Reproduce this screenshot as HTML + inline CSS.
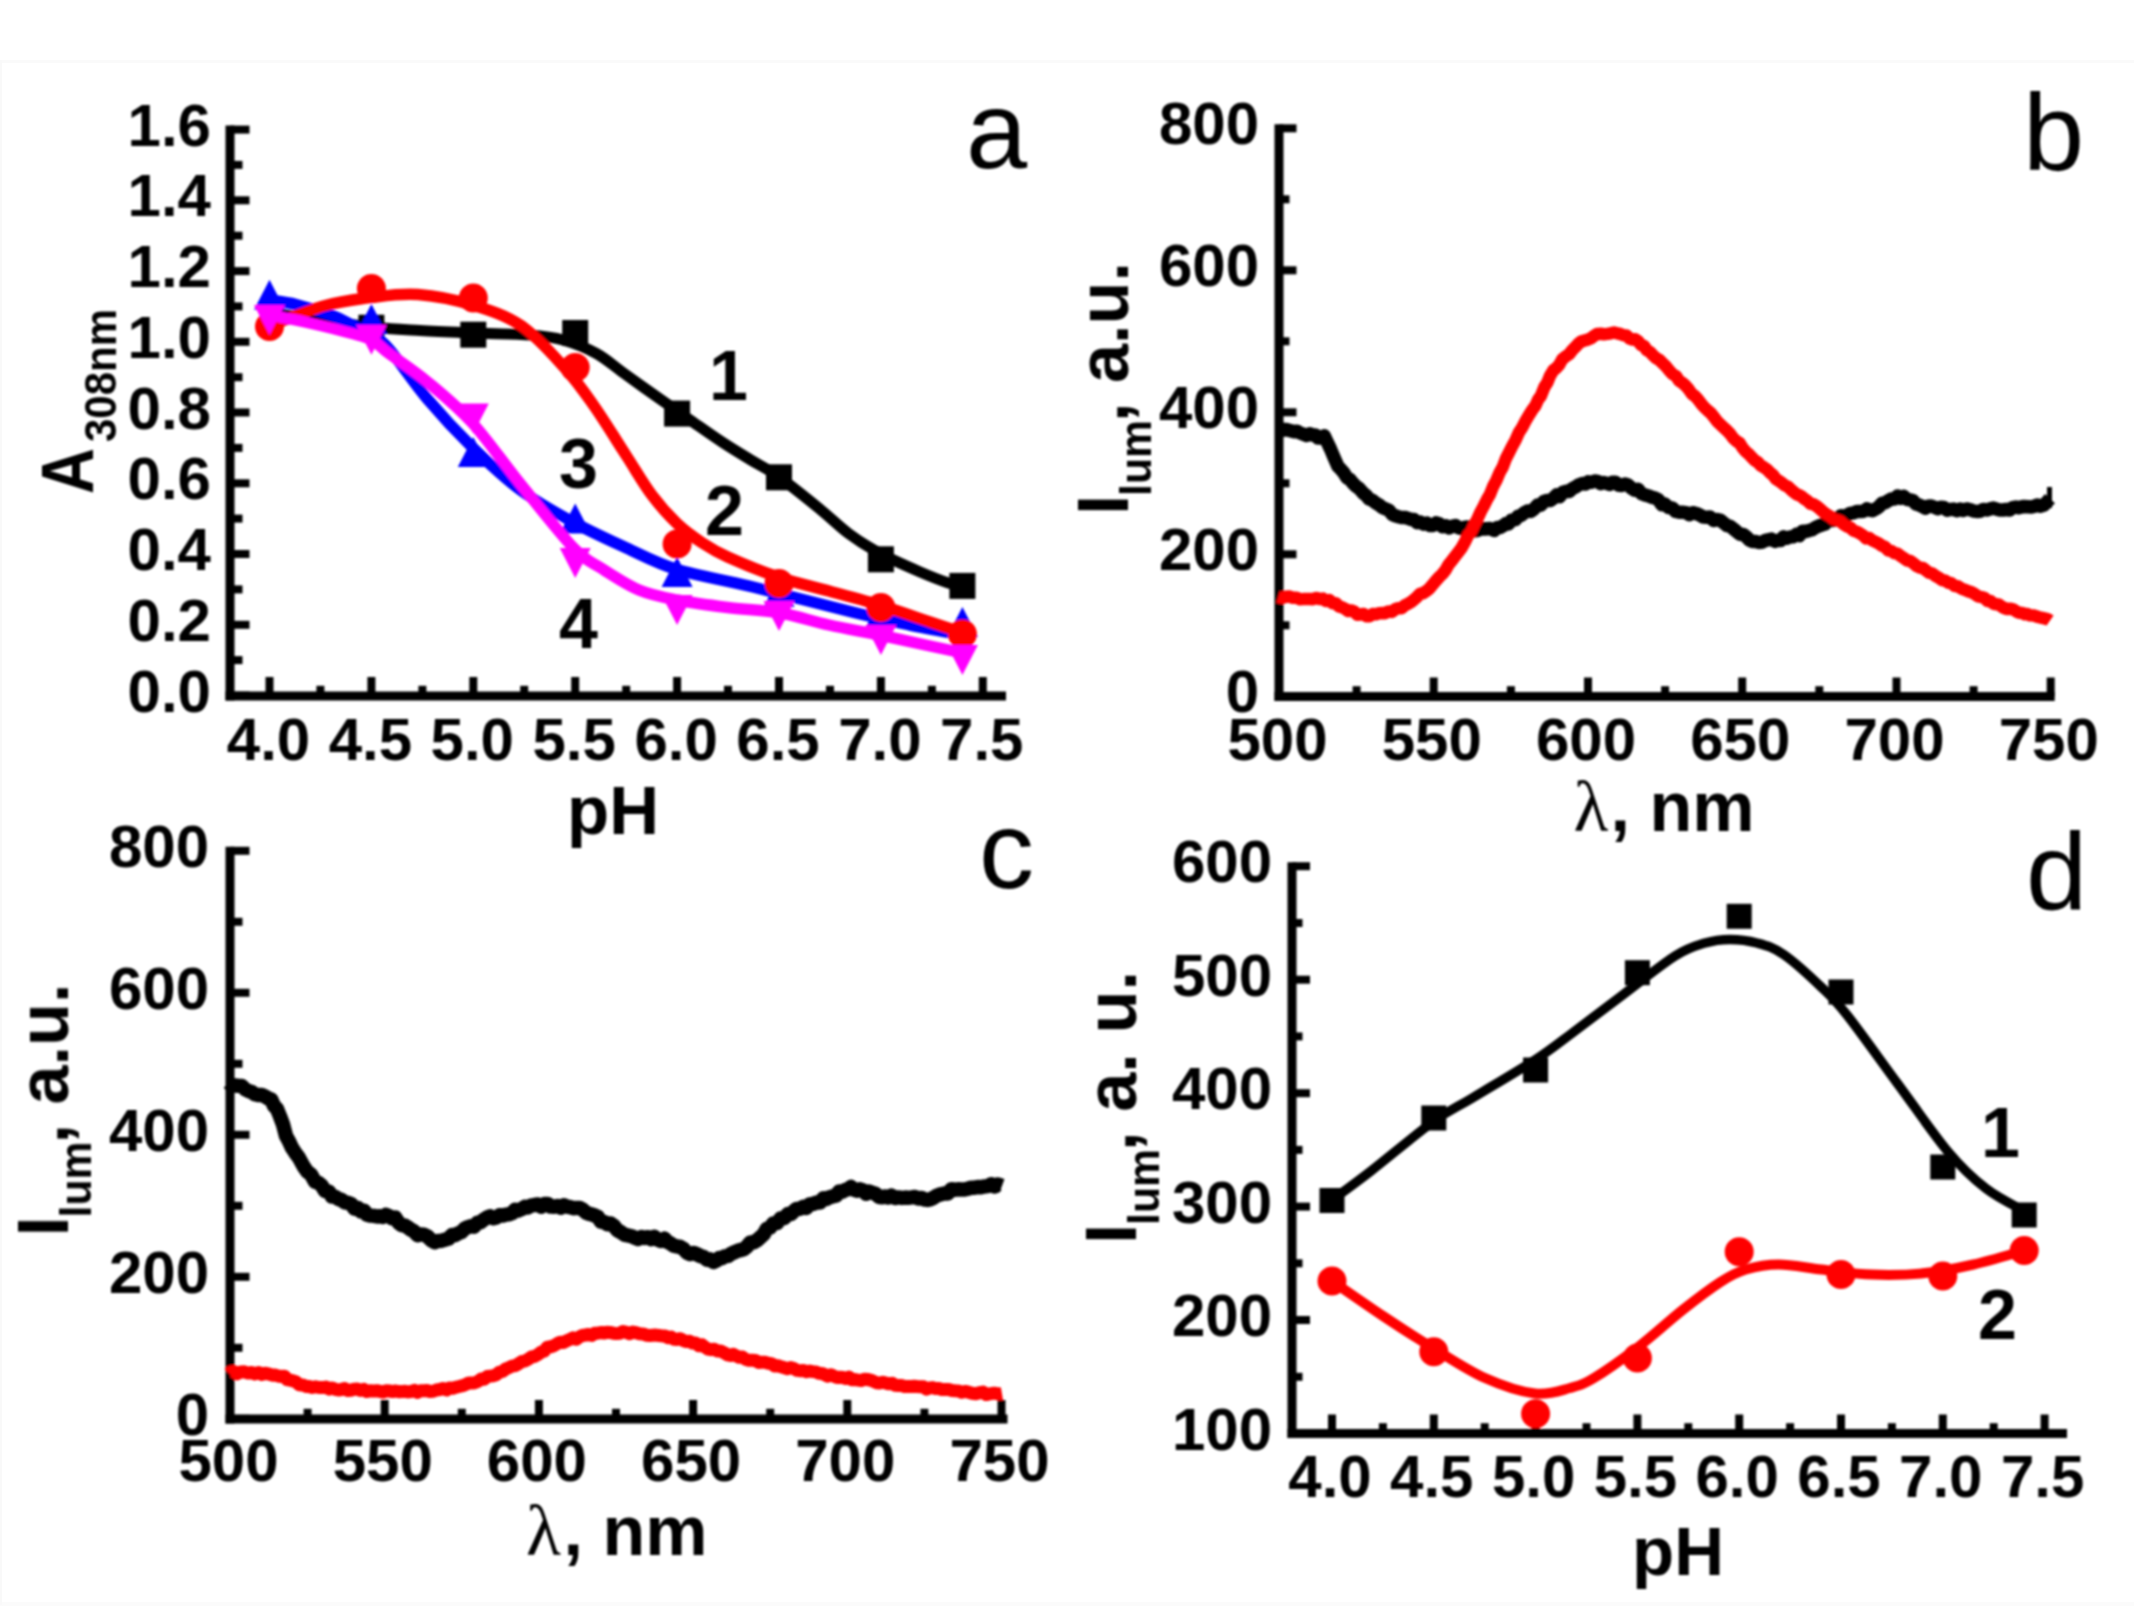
<!DOCTYPE html>
<html lang="en"><head><meta charset="utf-8"><title>Figure: pH dependence of absorbance and luminescence</title>
<style>html,body{margin:0;padding:0;background:#fff;}body{width:2134px;height:1624px;overflow:hidden;}svg{display:block;}text{fill:#000;}</style>
</head><body>
<svg width="2134" height="1624" viewBox="0 0 2134 1624">
<rect x="0" y="0" width="2134" height="1624" fill="#fff"/>
<defs><filter id="soft" x="0" y="0" width="100%" height="100%" filterUnits="userSpaceOnUse"><feGaussianBlur stdDeviation="0.9"/></filter></defs>
<rect x="0" y="60" width="2134" height="3" fill="#fafafa"/>
<rect x="0" y="1602" width="2134" height="4" fill="#fbfbfb"/>
<rect x="0" y="60" width="2" height="1545" fill="#f9f9f9"/>
<g id="figure" filter="url(#soft)">
<g id="panel-a">
<line x1="230" y1="125.6" x2="230" y2="700.5" stroke="#000" stroke-width="9"/>
<line x1="225.5" y1="696" x2="1006" y2="696" stroke="#000" stroke-width="9"/>
<line x1="230" y1="695.5" x2="249.5" y2="695.5" stroke="#000" stroke-width="8"/>
<line x1="230" y1="624.8" x2="249.5" y2="624.8" stroke="#000" stroke-width="8"/>
<line x1="230" y1="554" x2="249.5" y2="554" stroke="#000" stroke-width="8"/>
<line x1="230" y1="483.3" x2="249.5" y2="483.3" stroke="#000" stroke-width="8"/>
<line x1="230" y1="412.5" x2="249.5" y2="412.5" stroke="#000" stroke-width="8"/>
<line x1="230" y1="341.8" x2="249.5" y2="341.8" stroke="#000" stroke-width="8"/>
<line x1="230" y1="271.1" x2="249.5" y2="271.1" stroke="#000" stroke-width="8"/>
<line x1="230" y1="200.3" x2="249.5" y2="200.3" stroke="#000" stroke-width="8"/>
<line x1="230" y1="129.6" x2="249.5" y2="129.6" stroke="#000" stroke-width="8"/>
<line x1="230" y1="660.1" x2="242.5" y2="660.1" stroke="#000" stroke-width="8"/>
<line x1="230" y1="589.4" x2="242.5" y2="589.4" stroke="#000" stroke-width="8"/>
<line x1="230" y1="518.6" x2="242.5" y2="518.6" stroke="#000" stroke-width="8"/>
<line x1="230" y1="447.9" x2="242.5" y2="447.9" stroke="#000" stroke-width="8"/>
<line x1="230" y1="377.2" x2="242.5" y2="377.2" stroke="#000" stroke-width="8"/>
<line x1="230" y1="306.4" x2="242.5" y2="306.4" stroke="#000" stroke-width="8"/>
<line x1="230" y1="235.7" x2="242.5" y2="235.7" stroke="#000" stroke-width="8"/>
<line x1="230" y1="164.9" x2="242.5" y2="164.9" stroke="#000" stroke-width="8"/>
<line x1="269.5" y1="696" x2="269.5" y2="677" stroke="#000" stroke-width="8"/>
<line x1="371.4" y1="696" x2="371.4" y2="677" stroke="#000" stroke-width="8"/>
<line x1="473.3" y1="696" x2="473.3" y2="677" stroke="#000" stroke-width="8"/>
<line x1="575.2" y1="696" x2="575.2" y2="677" stroke="#000" stroke-width="8"/>
<line x1="677.1" y1="696" x2="677.1" y2="677" stroke="#000" stroke-width="8"/>
<line x1="779" y1="696" x2="779" y2="677" stroke="#000" stroke-width="8"/>
<line x1="880.9" y1="696" x2="880.9" y2="677" stroke="#000" stroke-width="8"/>
<line x1="982.8" y1="696" x2="982.8" y2="677" stroke="#000" stroke-width="8"/>
<line x1="320.4" y1="696" x2="320.4" y2="685.8" stroke="#000" stroke-width="8"/>
<line x1="422.4" y1="696" x2="422.4" y2="685.8" stroke="#000" stroke-width="8"/>
<line x1="524.2" y1="696" x2="524.2" y2="685.8" stroke="#000" stroke-width="8"/>
<line x1="626.2" y1="696" x2="626.2" y2="685.8" stroke="#000" stroke-width="8"/>
<line x1="728" y1="696" x2="728" y2="685.8" stroke="#000" stroke-width="8"/>
<line x1="830" y1="696" x2="830" y2="685.8" stroke="#000" stroke-width="8"/>
<line x1="931.9" y1="696" x2="931.9" y2="685.8" stroke="#000" stroke-width="8"/>
<text x="211" y="711.5" font-size="60" font-weight="bold" text-anchor="end" font-family='"Liberation Sans", Arial, sans-serif' >0.0</text>
<text x="211" y="640.8" font-size="60" font-weight="bold" text-anchor="end" font-family='"Liberation Sans", Arial, sans-serif' >0.2</text>
<text x="211" y="570" font-size="60" font-weight="bold" text-anchor="end" font-family='"Liberation Sans", Arial, sans-serif' >0.4</text>
<text x="211" y="499.3" font-size="60" font-weight="bold" text-anchor="end" font-family='"Liberation Sans", Arial, sans-serif' >0.6</text>
<text x="211" y="428.5" font-size="60" font-weight="bold" text-anchor="end" font-family='"Liberation Sans", Arial, sans-serif' >0.8</text>
<text x="211" y="357.8" font-size="60" font-weight="bold" text-anchor="end" font-family='"Liberation Sans", Arial, sans-serif' >1.0</text>
<text x="211" y="287.1" font-size="60" font-weight="bold" text-anchor="end" font-family='"Liberation Sans", Arial, sans-serif' >1.2</text>
<text x="211" y="216.3" font-size="60" font-weight="bold" text-anchor="end" font-family='"Liberation Sans", Arial, sans-serif' >1.4</text>
<text x="211" y="145.6" font-size="60" font-weight="bold" text-anchor="end" font-family='"Liberation Sans", Arial, sans-serif' >1.6</text>
<text x="268.5" y="759.5" font-size="60" font-weight="bold" text-anchor="middle" font-family='"Liberation Sans", Arial, sans-serif' >4.0</text>
<text x="370.4" y="759.5" font-size="60" font-weight="bold" text-anchor="middle" font-family='"Liberation Sans", Arial, sans-serif' >4.5</text>
<text x="472.3" y="759.5" font-size="60" font-weight="bold" text-anchor="middle" font-family='"Liberation Sans", Arial, sans-serif' >5.0</text>
<text x="574.2" y="759.5" font-size="60" font-weight="bold" text-anchor="middle" font-family='"Liberation Sans", Arial, sans-serif' >5.5</text>
<text x="676.1" y="759.5" font-size="60" font-weight="bold" text-anchor="middle" font-family='"Liberation Sans", Arial, sans-serif' >6.0</text>
<text x="778" y="759.5" font-size="60" font-weight="bold" text-anchor="middle" font-family='"Liberation Sans", Arial, sans-serif' >6.5</text>
<text x="879.9" y="759.5" font-size="60" font-weight="bold" text-anchor="middle" font-family='"Liberation Sans", Arial, sans-serif' >7.0</text>
<text x="981.8" y="759.5" font-size="60" font-weight="bold" text-anchor="middle" font-family='"Liberation Sans", Arial, sans-serif' >7.5</text>
<path d="M269.5,313C278.5,314.2 306.8,317.7 323.7,320C340.6,322.3 354.9,325.2 371,327C387.1,328.8 403.1,329.5 420,330.5C436.9,331.5 454.1,332.2 472.4,333C490.7,333.8 514.9,333.8 530,335C545.1,336.2 552,336.9 563,340C574,343.1 586,347.8 596.2,353.4C606.4,359 613.5,365.8 624.4,373.6C635.3,381.4 650.9,392.6 661.8,400.3C672.7,408 679.9,413 690,420C700.1,427 712.2,435.6 722.2,442.2C732.2,448.8 740.6,453.8 750,459.5C759.4,465.2 766.6,468.2 778.4,476.6C790.2,485 808.9,500.2 820.6,509.7C832.3,519.2 838.9,526.4 848.7,533.6C858.5,540.9 867.9,546.9 879.6,553.2C891.3,559.5 907.6,566.6 919,571.5C930.4,576.4 940.6,580.4 947.8,582.8C955,585.2 959.6,585.5 962,586" fill="none" stroke="#000" stroke-width="11" stroke-linejoin="round" stroke-linecap="butt"/>
<rect x="358.4" y="314.7" width="26" height="26" fill="#000"/>
<rect x="460.3" y="321.7" width="26" height="26" fill="#000"/>
<rect x="562.2" y="320" width="26" height="26" fill="#000"/>
<rect x="664.1" y="400.6" width="26" height="26" fill="#000"/>
<rect x="766" y="464.3" width="26" height="26" fill="#000"/>
<rect x="867.9" y="546.3" width="26" height="26" fill="#000"/>
<rect x="949.4" y="572.9" width="26" height="26" fill="#000"/>
<path d="M269.5,300C273.9,300.8 285.4,301.8 296,304.5C306.6,307.2 323.7,312.6 333,316C342.3,319.4 345.6,321.8 352,325C358.4,328.2 365,331 371.2,335C377.4,339 379.6,338.3 389,349C398.4,359.7 413.5,382.6 427.4,399C441.3,415.4 456.8,432.1 472.4,447.4C488,462.6 504.3,478 521.2,490.5C538.1,503 556.1,512.8 573.6,522.4C591.1,532 609.3,540.1 626.5,548C643.7,555.9 655.9,563 677,569.5C698.1,576 723.5,579.8 753,587C782.5,594.2 827.8,606.2 854,612.5C880.2,618.8 891.8,621.2 910,625C928.2,628.8 954.2,633.3 963,635" fill="none" stroke="#00f" stroke-width="11.5" stroke-linejoin="round" stroke-linecap="butt"/>
<polygon points="269.5,279.7 254,309.7 285,309.7" fill="#00f"/>
<polygon points="371.4,304 355.9,334 386.9,334" fill="#00f"/>
<polygon points="473.3,437 457.8,467 488.8,467" fill="#00f"/>
<polygon points="575.2,503.5 559.7,533.5 590.7,533.5" fill="#00f"/>
<polygon points="677.1,557 661.6,587 692.6,587" fill="#00f"/>
<polygon points="779,577 763.5,607 794.5,607" fill="#00f"/>
<polygon points="880.9,598 865.4,628 896.4,628" fill="#00f"/>
<polygon points="962.4,607 946.9,637 977.9,637" fill="#00f"/>
<path d="M269.5,326C278.5,322.7 306.8,310.8 323.7,306C340.6,301.2 355.3,299.4 371,297.5C386.7,295.6 401.1,293.2 418,294.5C434.9,295.8 455.2,299.8 472.4,305C489.6,310.2 505.7,315.2 521,325.6C536.3,336 552.3,354.3 564.4,367.5C576.5,380.7 583,390.2 593.4,405C603.8,419.8 616.8,441 626.5,456C636.2,471 643.4,483.8 651.8,495C660.2,506.2 668.6,515.5 677,523.5C685.4,531.5 693.9,537.4 702.4,543C710.9,548.6 715.1,551.3 727.7,557C740.3,562.7 761.1,571.3 778,577C794.9,582.7 812.1,586.3 829,591C845.9,595.7 862.7,599.8 879.5,605C896.3,610.2 916.1,617.3 930,622C943.9,626.7 957.5,631.2 963,633" fill="none" stroke="#f00" stroke-width="11.5" stroke-linejoin="round" stroke-linecap="butt"/>
<circle cx="269.5" cy="326.5" r="14.5" fill="#f00"/>
<circle cx="371.4" cy="288.6" r="14.5" fill="#f00"/>
<circle cx="473.3" cy="298" r="14.5" fill="#f00"/>
<circle cx="575.2" cy="367.4" r="14.5" fill="#f00"/>
<circle cx="677.1" cy="544" r="14.5" fill="#f00"/>
<circle cx="779" cy="583.5" r="14.5" fill="#f00"/>
<circle cx="880.9" cy="607.5" r="14.5" fill="#f00"/>
<circle cx="962.4" cy="634" r="14.5" fill="#f00"/>
<path d="M269.5,315C275.4,316.2 292.8,319.3 305,322C317.2,324.7 331.5,328.1 342.5,331C353.5,333.9 363.4,335.9 371.2,339.7C379,343.5 379.9,346.7 389.3,353.7C398.7,360.7 413.5,370.2 427.4,381.8C441.2,393.4 456.8,405.8 472.4,423C488,440.2 504.3,464.2 521.2,485C538.1,505.8 560.3,534.2 573.6,548C586.9,561.8 590.1,561 601,568C611.9,575 626.3,584.7 639,590C651.7,595.3 662.2,597.1 677,600C691.8,602.9 710.9,605.4 727.7,607.5C744.5,609.6 761.1,609.6 778,612.5C794.9,615.4 812.1,621.2 829,625C845.9,628.8 862.7,631.5 879.5,635C896.3,638.5 916.1,643 930,646C943.9,649 957.5,651.8 963,653" fill="none" stroke="#f0f" stroke-width="11.5" stroke-linejoin="round" stroke-linecap="butt"/>
<polygon points="269.5,335 254,305 285,305" fill="#f0f"/>
<polygon points="371.4,354.7 355.9,324.7 386.9,324.7" fill="#f0f"/>
<polygon points="473.3,433.5 457.8,403.5 488.8,403.5" fill="#f0f"/>
<polygon points="575.2,578 559.7,548 590.7,548" fill="#f0f"/>
<polygon points="677.1,625 661.6,595 692.6,595" fill="#f0f"/>
<polygon points="779,631 763.5,601 794.5,601" fill="#f0f"/>
<polygon points="880.9,655 865.4,625 896.4,625" fill="#f0f"/>
<polygon points="962.4,675 946.9,645 977.9,645" fill="#f0f"/>
<text x="709" y="400" font-size="70" font-weight="bold" text-anchor="start" font-family='"Liberation Sans", Arial, sans-serif' >1</text>
<text x="705" y="535" font-size="70" font-weight="bold" text-anchor="start" font-family='"Liberation Sans", Arial, sans-serif' >2</text>
<text x="559" y="488" font-size="70" font-weight="bold" text-anchor="start" font-family='"Liberation Sans", Arial, sans-serif' >3</text>
<text x="559" y="648" font-size="70" font-weight="bold" text-anchor="start" font-family='"Liberation Sans", Arial, sans-serif' >4</text>
<text x="966" y="168" font-size="110" font-weight="normal" text-anchor="start" font-family='"Liberation Sans", Arial, sans-serif' >a</text>
<text x="613" y="834" font-size="69" font-weight="bold" text-anchor="middle" font-family='"Liberation Sans", Arial, sans-serif' >pH</text>
<g transform="translate(93,494) rotate(-90)">
<text x="0" y="0" font-size="74" font-weight="bold" text-anchor="start" font-family='"Liberation Sans", Arial, sans-serif' textLength="46" lengthAdjust="spacingAndGlyphs">A</text>
<text x="52" y="23" font-size="44" font-weight="bold" text-anchor="start" font-family='"Liberation Sans", Arial, sans-serif' textLength="133" lengthAdjust="spacingAndGlyphs">308nm</text>
</g>
</g>
<g id="panel-b">
<line x1="1279" y1="124.3" x2="1279" y2="701" stroke="#000" stroke-width="9"/>
<line x1="1274.5" y1="696.5" x2="2054.7" y2="696.5" stroke="#000" stroke-width="9"/>
<line x1="1279" y1="696.3" x2="1296.5" y2="696.3" stroke="#000" stroke-width="8"/>
<line x1="1279" y1="554.3" x2="1296.5" y2="554.3" stroke="#000" stroke-width="8"/>
<line x1="1279" y1="412.3" x2="1296.5" y2="412.3" stroke="#000" stroke-width="8"/>
<line x1="1279" y1="270.3" x2="1296.5" y2="270.3" stroke="#000" stroke-width="8"/>
<line x1="1279" y1="128.3" x2="1296.5" y2="128.3" stroke="#000" stroke-width="8"/>
<line x1="1279" y1="625.3" x2="1289.5" y2="625.3" stroke="#000" stroke-width="8"/>
<line x1="1279" y1="483.3" x2="1289.5" y2="483.3" stroke="#000" stroke-width="8"/>
<line x1="1279" y1="341.3" x2="1289.5" y2="341.3" stroke="#000" stroke-width="8"/>
<line x1="1279" y1="199.3" x2="1289.5" y2="199.3" stroke="#000" stroke-width="8"/>
<line x1="1433.7" y1="696.5" x2="1433.7" y2="677.5" stroke="#000" stroke-width="8"/>
<line x1="1588" y1="696.5" x2="1588" y2="677.5" stroke="#000" stroke-width="8"/>
<line x1="1742.2" y1="696.5" x2="1742.2" y2="677.5" stroke="#000" stroke-width="8"/>
<line x1="1896.5" y1="696.5" x2="1896.5" y2="677.5" stroke="#000" stroke-width="8"/>
<line x1="2050.7" y1="696.5" x2="2050.7" y2="677.5" stroke="#000" stroke-width="8"/>
<line x1="1356.6" y1="696.5" x2="1356.6" y2="686.2" stroke="#000" stroke-width="8"/>
<line x1="1510.9" y1="696.5" x2="1510.9" y2="686.2" stroke="#000" stroke-width="8"/>
<line x1="1665.1" y1="696.5" x2="1665.1" y2="686.2" stroke="#000" stroke-width="8"/>
<line x1="1819.3" y1="696.5" x2="1819.3" y2="686.2" stroke="#000" stroke-width="8"/>
<line x1="1973.6" y1="696.5" x2="1973.6" y2="686.2" stroke="#000" stroke-width="8"/>
<text x="1259" y="712.3" font-size="60" font-weight="bold" text-anchor="end" font-family='"Liberation Sans", Arial, sans-serif' >0</text>
<text x="1259" y="570.3" font-size="60" font-weight="bold" text-anchor="end" font-family='"Liberation Sans", Arial, sans-serif' >200</text>
<text x="1259" y="428.3" font-size="60" font-weight="bold" text-anchor="end" font-family='"Liberation Sans", Arial, sans-serif' >400</text>
<text x="1259" y="286.3" font-size="60" font-weight="bold" text-anchor="end" font-family='"Liberation Sans", Arial, sans-serif' >600</text>
<text x="1259" y="144.3" font-size="60" font-weight="bold" text-anchor="end" font-family='"Liberation Sans", Arial, sans-serif' >800</text>
<text x="1277.5" y="760" font-size="60" font-weight="bold" text-anchor="middle" font-family='"Liberation Sans", Arial, sans-serif' >500</text>
<text x="1431.7" y="760" font-size="60" font-weight="bold" text-anchor="middle" font-family='"Liberation Sans", Arial, sans-serif' >550</text>
<text x="1586" y="760" font-size="60" font-weight="bold" text-anchor="middle" font-family='"Liberation Sans", Arial, sans-serif' >600</text>
<text x="1740.2" y="760" font-size="60" font-weight="bold" text-anchor="middle" font-family='"Liberation Sans", Arial, sans-serif' >650</text>
<text x="1894.5" y="760" font-size="60" font-weight="bold" text-anchor="middle" font-family='"Liberation Sans", Arial, sans-serif' >700</text>
<text x="2048.7" y="760" font-size="60" font-weight="bold" text-anchor="middle" font-family='"Liberation Sans", Arial, sans-serif' >750</text>
<path d="M1278,427.3L1280,428.2L1282.8,430.2L1286.1,429.4L1289.7,430.5L1293.4,431.7L1296.9,431.2L1300,433L1303.3,434.2L1306.6,435.5L1309.8,433.8L1312.8,435.1L1315.6,435L1318,438.1L1321.6,437.9L1324.2,435.8L1327,441.6L1330.5,449L1334.2,457.8L1338,466.4L1340.9,469.4L1343.8,472.7L1346.9,477.8L1350,479.5L1353,483.2L1356,486.3L1359.3,488.6L1363.6,493.5L1366.2,495.4L1369.1,499L1372.3,500.2L1375.6,502.9L1379,504.8L1382.4,507.6L1385.8,509L1389,510.2L1392.1,514.3L1395.3,515.8L1398.4,516.7L1401.5,517.5L1404.6,517.4L1407.7,518.2L1410.9,519.4L1414,519.5L1417.2,522.7L1420.3,522.1L1423.5,524.2L1426.7,523.1L1429.9,525.4L1433.1,525.4L1436.3,522.9L1439.5,524L1442.7,526.8L1445.9,525.7L1449.1,527.9L1452.3,526.3L1455.5,525.5L1458.7,527.8L1461.8,528.6L1465,527.2L1468.2,526.9L1471.6,528.1L1474.9,530.7L1478.3,530.3L1481.5,528.4L1484.6,529.1L1487.5,528.7L1490,528.5L1494.1,530.5L1497.3,527.5L1500.1,527.6L1503,525.8L1505.9,523.6L1508.5,524L1511.5,520.1L1515.5,519.5L1518.1,516.2L1520.9,515.5L1524.1,512.9L1527.4,511L1530.8,511.4L1534.2,508.8L1537.6,505.1L1540.8,505.3L1544,501.4L1547.1,500.4L1550.3,500.4L1553.4,498.2L1556.6,494.9L1559.7,496.5L1562.9,492.4L1566,491.2L1569.2,491.5L1572.5,488.5L1575.8,486.9L1579.1,484.7L1582.3,483.5L1585.4,484L1588.3,481.8L1591,482.3L1594.7,481L1597.8,481.4L1600.6,483.6L1603.5,482.5L1606.6,483.3L1609.5,484.4L1612.5,482.3L1615.5,482.3L1618.7,485.2L1621.8,485.4L1625,484.1L1628.2,485L1631.4,488.1L1634.7,490.2L1638,489.2L1641.3,493.5L1644.6,494.9L1648,495.7L1651.4,497.1L1654.9,498L1658.4,499.8L1661.8,504.8L1665,504.1L1668.7,507.6L1672.3,507.9L1675.7,511.5L1679.1,512.2L1682.6,512.3L1686,512.6L1689.4,514.7L1692.8,512.7L1696.3,513.5L1700,515.2L1703.2,517L1706.6,517.2L1710.1,517.1L1713.6,520.5L1717.1,519.5L1720.5,520.4L1723.8,523L1727.1,525.6L1730.4,526.5L1733.6,529L1736.8,531.7L1740,534.2L1743.2,534.4L1746.3,536.8L1749.4,540L1752.5,541.6L1755.5,541.5L1758.5,542.4L1761.8,542.3L1765,540.6L1768.1,539.8L1771.4,539.1L1775,541.4L1777.8,540.2L1780.6,540.6L1783.6,536.8L1786.7,538.2L1789.9,536.9L1793.1,536.8L1796.4,534.4L1799.4,535.6L1802.5,531.2L1805.6,531.4L1808.8,530.6L1812,529.7L1815.3,527.6L1818.5,526.1L1821.7,525L1824.9,524.1L1828,520.8L1831.2,520.6L1834.3,520L1837.5,518.6L1840.7,515.8L1843.8,516L1847,515.2L1850.2,513.4L1853.6,512.9L1857,511.4L1860.4,511.6L1863.7,511.2L1866.9,508.8L1869.7,510.2L1872.3,510.7L1876.4,508.6L1879.4,506.3L1882.1,503.2L1885,502.8L1888.2,500.8L1891.3,498.9L1894.5,499.1L1897.6,496L1900.7,498.3L1903.8,496.4L1906.9,499.3L1910,499.9L1912.9,500.5L1915.6,503.8L1918.8,504.9L1923,506.7L1925.4,508.2L1928.1,506.3L1931.1,505.9L1934.2,507.2L1937.5,508.7L1940.7,507.3L1944,507.5L1947.1,510.2L1950,509.5L1953.5,509.1L1956.9,510.8L1960.2,509.1L1963.4,510.4L1966.7,508.9L1970,509.7L1973.5,511L1976.7,511.4L1980,511.2L1983.3,509.4L1986.7,509.9L1990.1,508.9L1993.5,508.1L1996.8,509.2L2000,510.1L2003.2,510L2006.4,509.4L2009.5,510L2012.7,507.6L2015.7,507L2018.6,507.8L2021.4,507L2024,506.5L2027.8,506.8L2031.3,507.1L2034.4,506.2L2037.3,505L2040,506.2L2044.1,505L2047.6,501.2L2050,498.6" fill="none" stroke="#000" stroke-width="13.5" stroke-linejoin="round" stroke-linecap="butt"/>
<path d="M1278,596.9L1280,597.5L1282.6,597.7L1285.7,596.7L1289.2,596.6L1292.8,597.7L1296.5,597.7L1300,599.2L1303.1,599.1L1306.3,598.9L1309.6,598.9L1313,599.2L1316.4,598L1319.6,599L1322.8,598.6L1325.7,601L1329.3,600L1332.6,603.3L1335.8,603.2L1338.9,606.4L1341.9,607.2L1345,608.8L1348.1,611.1L1351.1,610.4L1354.2,611.6L1357.2,614.7L1360.3,614.5L1363.6,614L1366.6,616.3L1369.7,616.2L1372.8,614L1376,614.3L1379.2,613.2L1382.2,613.1L1385,613.3L1388.6,611.4L1391.9,611.9L1395.1,609.3L1398.2,608.3L1401.6,608.3L1404.5,605.6L1407.6,603.9L1410.6,602.3L1413.7,599.8L1416.8,597.2L1420,593.9L1423.1,593.1L1426.2,591.2L1429.3,588.6L1432.5,584.9L1435.9,580.7L1439.5,576.7L1442.4,574L1445.5,570.1L1448.6,564.7L1451.9,560.6L1455.2,556.3L1458.5,551.9L1461.8,547.6L1465,541.7L1468.1,535.2L1471.3,531.5L1474.4,524.7L1477.5,518.8L1480.6,511.9L1483.7,506.1L1486.9,499.7L1490,494.3L1493.2,486.2L1496.3,480.5L1499.5,472.8L1502.7,467.1L1505.9,458.6L1509.1,452.4L1512.3,446L1515.5,440.3L1518.8,432.7L1522.1,427.6L1525.6,420.9L1529,415.1L1532.3,409.9L1535.4,405.7L1538.2,399.5L1540.8,396.1L1544.6,386.7L1547.3,382.6L1549.9,376.1L1553.4,370.3L1556.1,368.2L1559.1,365L1562.3,359.3L1565.7,356.4L1569,354.3L1572.1,350.3L1575,347.4L1578.4,343.7L1581.5,341.3L1584.4,340.6L1587.4,339.7L1591,338.2L1593.9,336L1597.1,333.9L1600.5,333.8L1603.9,334.3L1607.4,333.9L1610.8,333.3L1614,332.4L1617.2,333.4L1620.3,334L1623.5,335.3L1626.5,335.5L1629.5,338.4L1632.3,339.6L1635,339.2L1638.3,341.5L1641.2,345L1643.9,345.9L1646.8,350.1L1650,352L1653,355.2L1656.1,358.1L1659.4,360L1662.8,363.4L1666.3,366.8L1670,371.4L1672.9,374.3L1675.9,375.9L1679,380.7L1682.2,382.7L1685.4,385.5L1688.6,389.2L1691.8,393.8L1695,396.1L1698.2,399.7L1701.3,403.8L1704.5,407.5L1707.7,410.5L1710.9,413.3L1714.1,417.2L1717.3,421.5L1720.5,424.7L1723.7,427.6L1726.9,430.5L1730.1,433.9L1733.2,438.2L1736.4,441.1L1739.6,443.1L1742.7,448L1745.8,451.6L1748.9,454.3L1751.9,457.5L1754.9,460.4L1757.8,462.3L1760.8,465.6L1763.8,467.3L1766.9,469.4L1770,472.6L1773,475.1L1775.9,479L1778.7,480.8L1781.6,482.7L1784.6,485.3L1788,486.7L1791.9,490.5L1796.4,494.1L1798.9,495.1L1801.6,496.5L1804.4,498.9L1807.3,500.7L1810.4,503.6L1813.6,504.4L1816.9,506.4L1820.2,509.1L1823.6,512.3L1827,514.6L1830.4,516.6L1833.8,519.4L1837.2,520.1L1840.5,521.4L1843.8,524.5L1847,526.4L1850.2,527.6L1853.3,530.6L1856.5,531.7L1859.6,533.2L1862.8,535.2L1866,538.4L1869.1,537.9L1872.3,540.4L1875.5,541.9L1878.6,543.4L1881.8,545.7L1884.9,546.9L1888.1,550.3L1891.3,551L1894.4,553.1L1897.6,553.6L1900.8,556.1L1903.9,558.2L1907.1,560.5L1910.3,560.9L1913.4,563.2L1916.6,565.9L1919.8,567.6L1922.9,568L1926.1,570.5L1929.3,572.8L1932.5,573.6L1935.6,576L1938.8,577.7L1942,580.1L1945.1,580.7L1948.3,582.6L1951.5,583.4L1954.8,585.9L1958.1,586.5L1961.4,588.6L1964.8,589.8L1968.1,591.2L1971.5,592.3L1974.8,594.1L1978.1,596.3L1981.4,597L1984.5,597.9L1987.6,601L1990.6,601.1L1993.5,603.8L1996.3,604.2L1998.9,604.7L2002.8,607.4L2006.5,608.9L2010,608.7L2013.3,609.3L2016.4,611.5L2019.3,612.8L2022.1,613L2024.8,614.2L2027.4,614L2030,615.3L2034.2,615.6L2038.2,617L2041.9,617.8L2045.2,618.6L2048,619.3L2050,620.7" fill="none" stroke="#f00" stroke-width="12.5" stroke-linejoin="round" stroke-linecap="butt"/>
<line x1="2049.5" y1="487" x2="2049.5" y2="508" stroke="#000" stroke-width="5"/>
<text x="2023" y="170" font-size="110" font-weight="normal" text-anchor="start" font-family='"Liberation Sans", Arial, sans-serif' >b</text>
<text x="1573.5" y="831" font-size="72" font-weight="normal" text-anchor="start" font-family='"Liberation Serif", "DejaVu Serif", serif' >λ</text>
<text x="1610.5" y="831" font-size="70" font-weight="bold" text-anchor="start" font-family='"Liberation Sans", Arial, sans-serif' >, nm</text>
<g transform="translate(1128,515) rotate(-90)">
<text x="0" y="0" font-size="73" font-weight="bold" text-anchor="start" font-family='"Liberation Sans", Arial, sans-serif' >I</text>
<text x="19" y="23" font-size="44" font-weight="bold" text-anchor="start" font-family='"Liberation Sans", Arial, sans-serif' textLength="76" lengthAdjust="spacingAndGlyphs">lum</text>
<text x="93" y="0" font-size="73" font-weight="bold" text-anchor="start" font-family='"Liberation Sans", Arial, sans-serif' textLength="160" lengthAdjust="spacingAndGlyphs">, a.u.</text>
</g>
</g>
<g id="panel-c">
<line x1="230" y1="846.8" x2="230" y2="1423.5" stroke="#000" stroke-width="9"/>
<line x1="225.5" y1="1419" x2="1007.5" y2="1419" stroke="#000" stroke-width="9"/>
<line x1="230" y1="1418.8" x2="249.5" y2="1418.8" stroke="#000" stroke-width="8"/>
<line x1="230" y1="1276.8" x2="249.5" y2="1276.8" stroke="#000" stroke-width="8"/>
<line x1="230" y1="1134.8" x2="249.5" y2="1134.8" stroke="#000" stroke-width="8"/>
<line x1="230" y1="992.8" x2="249.5" y2="992.8" stroke="#000" stroke-width="8"/>
<line x1="230" y1="850.8" x2="249.5" y2="850.8" stroke="#000" stroke-width="8"/>
<line x1="230" y1="1347.8" x2="242.5" y2="1347.8" stroke="#000" stroke-width="8"/>
<line x1="230" y1="1205.8" x2="242.5" y2="1205.8" stroke="#000" stroke-width="8"/>
<line x1="230" y1="1063.8" x2="242.5" y2="1063.8" stroke="#000" stroke-width="8"/>
<line x1="230" y1="921.8" x2="242.5" y2="921.8" stroke="#000" stroke-width="8"/>
<line x1="384.7" y1="1419" x2="384.7" y2="1400" stroke="#000" stroke-width="8"/>
<line x1="538.9" y1="1419" x2="538.9" y2="1400" stroke="#000" stroke-width="8"/>
<line x1="693.1" y1="1419" x2="693.1" y2="1400" stroke="#000" stroke-width="8"/>
<line x1="847.3" y1="1419" x2="847.3" y2="1400" stroke="#000" stroke-width="8"/>
<line x1="1001.5" y1="1419" x2="1001.5" y2="1400" stroke="#000" stroke-width="8"/>
<line x1="307.6" y1="1419" x2="307.6" y2="1408.8" stroke="#000" stroke-width="8"/>
<line x1="461.8" y1="1419" x2="461.8" y2="1408.8" stroke="#000" stroke-width="8"/>
<line x1="616" y1="1419" x2="616" y2="1408.8" stroke="#000" stroke-width="8"/>
<line x1="770.2" y1="1419" x2="770.2" y2="1408.8" stroke="#000" stroke-width="8"/>
<line x1="924.4" y1="1419" x2="924.4" y2="1408.8" stroke="#000" stroke-width="8"/>
<text x="209" y="1434.8" font-size="60" font-weight="bold" text-anchor="end" font-family='"Liberation Sans", Arial, sans-serif' >0</text>
<text x="209" y="1292.8" font-size="60" font-weight="bold" text-anchor="end" font-family='"Liberation Sans", Arial, sans-serif' >200</text>
<text x="209" y="1150.8" font-size="60" font-weight="bold" text-anchor="end" font-family='"Liberation Sans", Arial, sans-serif' >400</text>
<text x="209" y="1008.8" font-size="60" font-weight="bold" text-anchor="end" font-family='"Liberation Sans", Arial, sans-serif' >600</text>
<text x="209" y="866.8" font-size="60" font-weight="bold" text-anchor="end" font-family='"Liberation Sans", Arial, sans-serif' >800</text>
<text x="228.5" y="1481" font-size="60" font-weight="bold" text-anchor="middle" font-family='"Liberation Sans", Arial, sans-serif' >500</text>
<text x="382.7" y="1481" font-size="60" font-weight="bold" text-anchor="middle" font-family='"Liberation Sans", Arial, sans-serif' >550</text>
<text x="536.9" y="1481" font-size="60" font-weight="bold" text-anchor="middle" font-family='"Liberation Sans", Arial, sans-serif' >600</text>
<text x="691.1" y="1481" font-size="60" font-weight="bold" text-anchor="middle" font-family='"Liberation Sans", Arial, sans-serif' >650</text>
<text x="845.3" y="1481" font-size="60" font-weight="bold" text-anchor="middle" font-family='"Liberation Sans", Arial, sans-serif' >700</text>
<text x="999.5" y="1481" font-size="60" font-weight="bold" text-anchor="middle" font-family='"Liberation Sans", Arial, sans-serif' >750</text>
<path d="M229,1082.8L231.2,1085.2L234.4,1085.6L238,1085.8L241.7,1085.9L245,1089.1L248.5,1091L251.9,1092.2L255,1094.3L258,1095L261.6,1095L264.9,1096.4L268,1098.3L271.1,1099.3L274,1105.8L277,1109L280,1116.4L283,1124.4L286,1135.8L289,1141.4L292,1147.8L295,1152.4L299.1,1158.1L303.6,1166.4L307.1,1171.5L310.9,1174.4L315,1181.6L318.2,1182.8L321.5,1185.4L325.1,1191L329,1191.6L331.9,1196.5L335,1196.7L338.2,1198.9L341.5,1200L344.8,1202.3L348,1202.9L351.2,1204L354.6,1208.7L357.9,1208L361.1,1211.5L364.2,1210.8L367,1214.7L370.7,1215.6L373.9,1215.9L377,1216.5L380,1216.3L383,1217L386,1214.8L389,1216.1L392,1218.2L395.2,1217.6L398.5,1222.6L401.8,1225.1L405,1225.7L408,1227.5L410.8,1229.6L413.8,1231.2L417.5,1235.2L420.5,1234.4L423.9,1234.7L427.5,1236.5L431.2,1240.2L434.7,1242.2L437.8,1241L441.7,1240.7L445.2,1239.6L448.5,1238.6L452,1235L455,1235.1L458.1,1233.4L461.3,1232.1L464.6,1228.8L468,1227.1L471,1226.2L474.1,1226.7L477.3,1222.9L480.6,1222.2L483.8,1219.6L487,1217.6L490.2,1216.4L493.3,1218.2L496.5,1217.4L499.7,1215.2L502.8,1215.6L506,1214.6L509.1,1214.3L512.1,1213.1L515.1,1209.7L518.2,1210.4L521.5,1209.1L525,1206.8L527.9,1207.4L531.1,1205.7L534.4,1205L537.8,1204.5L541.2,1206.7L544.5,1204.1L547.7,1203.9L550.6,1206.6L554.2,1206.7L557.6,1206L560.7,1207.7L563.8,1205.3L566.9,1206.6L570,1207.2L573.2,1208.2L576.5,1207.9L579.7,1208.1L582.9,1209.7L585.9,1212.5L588.6,1213.7L592.1,1214.6L595.2,1215.7L598,1217.1L601,1221.7L604.1,1221.9L607.2,1224.2L610.4,1223.4L614,1226L617.2,1230.1L620.8,1232.1L624.4,1234.6L628.1,1235.5L631.6,1236.3L635,1237.7L638.2,1239L641.5,1237.1L644.7,1237.9L648,1237.2L651.1,1239.2L654.2,1236.7L657.2,1239.4L660.6,1240.9L664.5,1238.7L667.3,1241.8L670.4,1243.4L673.6,1245.7L677,1246.4L680.4,1247L683.8,1249.2L687,1252.8L690,1254L693.7,1252.9L697.3,1254.5L700.7,1256.1L703.9,1257.2L707,1259.8L710,1259.3L713.3,1262L716.3,1260.7L719.2,1257.9L722.1,1258.2L725,1256.4L728,1255.9L731.1,1253.8L734.1,1252.4L737.2,1251L740.4,1250.1L743.6,1249.3L747,1246.6L750.3,1242.4L753.7,1242.3L757,1240.3L760.3,1237.3L763.6,1234.4L766.9,1228.7L770.1,1227.5L773.3,1223.4L777.1,1223.1L780.7,1218.4L784.3,1218L788,1214.1L790.9,1214.1L793.7,1211.3L796.6,1208.9L799.8,1208.7L803.6,1206.8L806.4,1207.8L809.6,1204.3L813,1203.8L816.5,1202.6L820,1202.6L823.3,1198.3L826.4,1198.9L829,1197.4L833.1,1196.3L836.3,1195.4L839.1,1191.6L842,1191.7L845.1,1190.1L848.1,1189.3L851,1187L854,1189.6L857,1190.7L859.9,1189.3L862.9,1190.3L866,1193.8L869,1191.6L871.9,1192.6L875.2,1193.6L879.5,1197.1L882.1,1197.3L885,1196.5L888.2,1197.4L891.5,1195.5L894.9,1198L898.4,1197.4L901.8,1197.9L905,1197.6L908.2,1197.8L911.6,1197.4L915,1196.9L918.3,1198.5L921.6,1197.9L924.7,1199.6L927.5,1199.9L930,1199.4L933.9,1197.6L936.7,1195.7L939.2,1194.8L942,1194L945,1193.4L947.9,1193.5L951.3,1189.3L955.5,1189.7L958.1,1189.3L961.1,1189.5L964.3,1189.6L967.7,1188.7L971.1,1187.7L974.5,1187.7L977.8,1187L980.8,1187.3L984.2,1186.4L987.8,1186.1L991.3,1184.3L994.6,1186.5L997.6,1184.5L1000.1,1185.2L1002,1185.9" fill="none" stroke="#000" stroke-width="14.5" stroke-linejoin="round" stroke-linecap="butt"/>
<path d="M229,1373.6L231,1371.7L233.7,1371.4L237,1373.8L240.6,1371.9L244.3,1371.8L248.1,1373.1L251.7,1372.5L255,1373.9L258.5,1372.5L262.1,1374.5L265.6,1373.2L269.1,1374.1L272.3,1375.2L275.3,1375L278,1376L281.7,1376.5L284.6,1376.2L287.1,1379.6L290,1380.2L293,1380.8L296,1381.9L299.3,1384.7L303.6,1385.2L306.2,1386.5L309.1,1386.6L312.3,1387.4L315.6,1386.8L319,1387.5L322.4,1387.6L325.8,1387.1L329,1389.1L332.1,1387.9L335.3,1389.3L338.4,1390L341.5,1389.5L344.6,1388.5L347.7,1390.4L350.8,1390.2L354,1389.2L357.2,1389.1L360.5,1390.4L363.7,1389.3L367,1391.6L370.3,1390.7L373.5,1390.9L376.8,1390.7L380,1391.4L383.2,1392.1L386.3,1390.7L389.4,1391L392.6,1391.6L395.7,1391L398.8,1391.7L401.9,1391.6L405,1391.3L408.1,1391.9L411.2,1391.5L414.4,1390.3L417.5,1392.4L420.6,1390.7L423.7,1390.7L426.9,1390.5L430,1391.5L433.2,1391.3L436.5,1390L439.8,1389.5L443.1,1388.4L446.4,1390L449.5,1387.9L452.6,1388.3L455.5,1387.3L459.1,1386.5L462.5,1385.7L465.7,1384.4L468.8,1383L471.9,1383.1L475,1382.7L478.1,1381.3L481.2,1379.1L484.3,1379.2L487.3,1376.5L490.3,1376.1L493.4,1375.8L496.5,1374.6L499.6,1372L502.6,1371.4L505.7,1369L508.9,1367.6L512,1366.2L515.2,1365.7L518.4,1363.8L521.7,1361.7L524.9,1361L528.2,1359.3L531.4,1357L534.6,1356.4L537.8,1354.6L541,1352.2L544.2,1351.1L547.4,1347.1L550.6,1346.7L553.8,1345.7L557.1,1343.7L560.3,1342.2L563.6,1342.4L566.8,1340.8L570,1339.4L573.1,1337.9L576.3,1339.2L579.4,1336.9L582.4,1335.5L585.5,1335L588.6,1334.4L591.7,1335.4L594.7,1333.3L597.7,1333.2L600.8,1332.5L603.9,1333.1L607,1332.3L610.1,1332.4L613.3,1333.2L616.4,1333.6L619.7,1333.3L623,1331.5L626.5,1332.4L629.6,1333.7L632.8,1332L636.1,1332.7L639.5,1333.7L642.9,1333.9L646.4,1335.2L650,1335.5L652.9,1335.3L655.8,1335.1L658.8,1335.5L661.9,1335.9L664.9,1335.9L668,1337.8L671.1,1337.1L674.1,1339.3L677,1339.4L680.2,1338.7L683.4,1340.5L686.5,1341.6L689.6,1341.2L692.7,1343.1L695.7,1343L698.9,1345.7L702,1344.8L705.1,1347.3L708.1,1349.1L711.1,1349.7L714.1,1349.2L717.2,1351L720.4,1351L723.9,1352.6L727.7,1354.9L730.4,1355.5L733.2,1354.3L736.2,1355.9L739.2,1357.3L742.4,1357L745.5,1359.2L748.8,1360.2L752,1360.2L755.3,1360.5L758.6,1362.4L761.8,1362.3L765,1362.3L768.2,1363.2L771.4,1363.6L774.6,1365.9L777.9,1365.7L781.1,1366.8L784.4,1367.8L787.6,1368.8L790.8,1367.5L794.1,1368.7L797.3,1370.4L800.5,1370.7L803.6,1370.4L806.7,1371.7L809.8,1371.1L812.8,1371.6L815.8,1371.9L818.8,1373.2L821.7,1373.4L824.7,1374.6L827.7,1376.2L830.7,1374.7L833.8,1376.2L836.9,1377.4L840,1377.2L842.9,1377.5L845.9,1378.5L848.9,1377.1L852,1379.7L855.1,1379.5L858.1,1380.1L861.2,1380.5L864.3,1379.2L867.4,1379.5L870.5,1380.1L873.5,1381.3L876.5,1382.7L879.5,1383L882.7,1382.2L885.9,1383.1L889,1383.8L892.1,1383.3L895.2,1385.3L898.3,1385.6L901.4,1385.5L904.5,1386.4L907.6,1386.5L910.7,1386.6L913.8,1386.2L917,1386.5L920.1,1386.7L923.3,1386.7L926.4,1389.1L929.5,1387.9L932.6,1387.6L935.7,1388.6L938.8,1388.5L942,1389.6L945.3,1389.6L948.6,1389.6L952,1390.6L955.5,1390.8L958.5,1390.9L961.7,1392.3L965,1391.4L968.5,1392.2L972.1,1393.3L975.8,1393.8L979.4,1392.7L982.9,1392.1L986.4,1394.6L989.6,1393.8L992.7,1393.3L995.5,1393.3L998.1,1393.8L1000.2,1394.1L1002,1393.8" fill="none" stroke="#f00" stroke-width="13" stroke-linejoin="round" stroke-linecap="butt"/>
<text x="979" y="888" font-size="110" font-weight="normal" text-anchor="start" font-family='"Liberation Sans", Arial, sans-serif' >c</text>
<text x="526" y="1554.5" font-size="72" font-weight="normal" text-anchor="start" font-family='"Liberation Serif", "DejaVu Serif", serif' >λ</text>
<text x="563.5" y="1554.5" font-size="70" font-weight="bold" text-anchor="start" font-family='"Liberation Sans", Arial, sans-serif' >, nm</text>
<g transform="translate(68,1236.5) rotate(-90)">
<text x="0" y="0" font-size="73" font-weight="bold" text-anchor="start" font-family='"Liberation Sans", Arial, sans-serif' >I</text>
<text x="19" y="23" font-size="44" font-weight="bold" text-anchor="start" font-family='"Liberation Sans", Arial, sans-serif' textLength="76" lengthAdjust="spacingAndGlyphs">lum</text>
<text x="93" y="0" font-size="73" font-weight="bold" text-anchor="start" font-family='"Liberation Sans", Arial, sans-serif' textLength="160" lengthAdjust="spacingAndGlyphs">, a.u.</text>
</g>
</g>
<g id="panel-d">
<line x1="1292" y1="862.2" x2="1292" y2="1438" stroke="#000" stroke-width="9"/>
<line x1="1287.5" y1="1433.5" x2="2067" y2="1433.5" stroke="#000" stroke-width="9"/>
<line x1="1292" y1="1433.5" x2="1310" y2="1433.5" stroke="#000" stroke-width="8"/>
<line x1="1292" y1="1320" x2="1310" y2="1320" stroke="#000" stroke-width="8"/>
<line x1="1292" y1="1206.6" x2="1310" y2="1206.6" stroke="#000" stroke-width="8"/>
<line x1="1292" y1="1093.2" x2="1310" y2="1093.2" stroke="#000" stroke-width="8"/>
<line x1="1292" y1="979.7" x2="1310" y2="979.7" stroke="#000" stroke-width="8"/>
<line x1="1292" y1="866.2" x2="1310" y2="866.2" stroke="#000" stroke-width="8"/>
<line x1="1292" y1="1376.8" x2="1302.5" y2="1376.8" stroke="#000" stroke-width="8"/>
<line x1="1292" y1="1263.3" x2="1302.5" y2="1263.3" stroke="#000" stroke-width="8"/>
<line x1="1292" y1="1149.9" x2="1302.5" y2="1149.9" stroke="#000" stroke-width="8"/>
<line x1="1292" y1="1036.4" x2="1302.5" y2="1036.4" stroke="#000" stroke-width="8"/>
<line x1="1292" y1="923" x2="1302.5" y2="923" stroke="#000" stroke-width="8"/>
<line x1="1332" y1="1433.5" x2="1332" y2="1414.5" stroke="#000" stroke-width="8"/>
<line x1="1433.8" y1="1433.5" x2="1433.8" y2="1414.5" stroke="#000" stroke-width="8"/>
<line x1="1535.6" y1="1433.5" x2="1535.6" y2="1414.5" stroke="#000" stroke-width="8"/>
<line x1="1637.4" y1="1433.5" x2="1637.4" y2="1414.5" stroke="#000" stroke-width="8"/>
<line x1="1739.2" y1="1433.5" x2="1739.2" y2="1414.5" stroke="#000" stroke-width="8"/>
<line x1="1841" y1="1433.5" x2="1841" y2="1414.5" stroke="#000" stroke-width="8"/>
<line x1="1942.8" y1="1433.5" x2="1942.8" y2="1414.5" stroke="#000" stroke-width="8"/>
<line x1="2044.6" y1="1433.5" x2="2044.6" y2="1414.5" stroke="#000" stroke-width="8"/>
<line x1="1382.9" y1="1433.5" x2="1382.9" y2="1423.2" stroke="#000" stroke-width="8"/>
<line x1="1484.7" y1="1433.5" x2="1484.7" y2="1423.2" stroke="#000" stroke-width="8"/>
<line x1="1586.5" y1="1433.5" x2="1586.5" y2="1423.2" stroke="#000" stroke-width="8"/>
<line x1="1688.3" y1="1433.5" x2="1688.3" y2="1423.2" stroke="#000" stroke-width="8"/>
<line x1="1790.1" y1="1433.5" x2="1790.1" y2="1423.2" stroke="#000" stroke-width="8"/>
<line x1="1891.9" y1="1433.5" x2="1891.9" y2="1423.2" stroke="#000" stroke-width="8"/>
<line x1="1993.7" y1="1433.5" x2="1993.7" y2="1423.2" stroke="#000" stroke-width="8"/>
<text x="1272" y="1449.5" font-size="60" font-weight="bold" text-anchor="end" font-family='"Liberation Sans", Arial, sans-serif' >100</text>
<text x="1272" y="1336" font-size="60" font-weight="bold" text-anchor="end" font-family='"Liberation Sans", Arial, sans-serif' >200</text>
<text x="1272" y="1222.6" font-size="60" font-weight="bold" text-anchor="end" font-family='"Liberation Sans", Arial, sans-serif' >300</text>
<text x="1272" y="1109.2" font-size="60" font-weight="bold" text-anchor="end" font-family='"Liberation Sans", Arial, sans-serif' >400</text>
<text x="1272" y="995.7" font-size="60" font-weight="bold" text-anchor="end" font-family='"Liberation Sans", Arial, sans-serif' >500</text>
<text x="1272" y="882.2" font-size="60" font-weight="bold" text-anchor="end" font-family='"Liberation Sans", Arial, sans-serif' >600</text>
<text x="1330" y="1496.5" font-size="60" font-weight="bold" text-anchor="middle" font-family='"Liberation Sans", Arial, sans-serif' >4.0</text>
<text x="1431.8" y="1496.5" font-size="60" font-weight="bold" text-anchor="middle" font-family='"Liberation Sans", Arial, sans-serif' >4.5</text>
<text x="1533.6" y="1496.5" font-size="60" font-weight="bold" text-anchor="middle" font-family='"Liberation Sans", Arial, sans-serif' >5.0</text>
<text x="1635.4" y="1496.5" font-size="60" font-weight="bold" text-anchor="middle" font-family='"Liberation Sans", Arial, sans-serif' >5.5</text>
<text x="1737.2" y="1496.5" font-size="60" font-weight="bold" text-anchor="middle" font-family='"Liberation Sans", Arial, sans-serif' >6.0</text>
<text x="1839" y="1496.5" font-size="60" font-weight="bold" text-anchor="middle" font-family='"Liberation Sans", Arial, sans-serif' >6.5</text>
<text x="1940.8" y="1496.5" font-size="60" font-weight="bold" text-anchor="middle" font-family='"Liberation Sans", Arial, sans-serif' >7.0</text>
<text x="2042.6" y="1496.5" font-size="60" font-weight="bold" text-anchor="middle" font-family='"Liberation Sans", Arial, sans-serif' >7.5</text>
<path d="M1332,1200C1338.5,1195.2 1354,1184.2 1371,1171C1388,1157.8 1417.1,1133.2 1434,1121C1450.9,1108.8 1455.6,1108.2 1472.4,1098C1489.2,1087.8 1518.1,1071 1535,1060C1551.9,1049 1558.8,1043 1573.6,1032C1588.4,1021 1607.1,1006.7 1624,994C1640.9,981.3 1661.5,964.5 1675,956C1688.5,947.5 1695.8,945.8 1705,943C1714.2,940.2 1721.3,939.4 1730,939.4C1738.7,939.4 1748,940.5 1757,943C1766,945.5 1773,947.2 1783.8,954.6C1794.6,962 1811.2,977.4 1821.7,987.5C1832.2,997.6 1834.3,999 1847,1015C1859.7,1031 1880.7,1060.8 1897.6,1083.6C1914.5,1106.4 1933.6,1134.5 1948.3,1152C1963,1169.5 1973.4,1178.8 1986,1188.6C1998.6,1198.4 2017.7,1207.3 2024,1211" fill="none" stroke="#000" stroke-width="9.5" stroke-linejoin="round" stroke-linecap="butt"/>
<rect x="1319.5" y="1188" width="25" height="25" fill="#000"/>
<rect x="1421.3" y="1105.5" width="25" height="25" fill="#000"/>
<rect x="1523.1" y="1057.5" width="25" height="25" fill="#000"/>
<rect x="1624.9" y="960.2" width="25" height="25" fill="#000"/>
<rect x="1726.7" y="903.8" width="25" height="25" fill="#000"/>
<rect x="1828.5" y="979.5" width="25" height="25" fill="#000"/>
<rect x="1930.3" y="1154.5" width="25" height="25" fill="#000"/>
<rect x="2011.7" y="1202.5" width="25" height="25" fill="#000"/>
<path d="M1332,1281C1340.5,1286.8 1366.2,1304.8 1383,1316C1399.8,1327.2 1416,1337.7 1433,1348C1450,1358.3 1468,1370.4 1485,1378C1502,1385.6 1520.8,1391.8 1535,1393.5C1549.2,1395.2 1560.2,1390.6 1570,1388C1579.8,1385.4 1582.8,1384.7 1594,1378C1605.2,1371.3 1622.2,1359.3 1637,1348C1651.8,1336.7 1668.7,1321 1682.6,1310C1696.5,1299 1710,1288.8 1720.5,1282C1731,1275.2 1736.1,1272.4 1745.8,1269.5C1755.5,1266.6 1766,1264.5 1778.7,1264.5C1791.4,1264.5 1806.1,1267.8 1821.7,1269.5C1837.3,1271.2 1855.4,1274 1872.3,1274.6C1889.2,1275.2 1906.1,1275 1923,1273.3C1939.9,1271.6 1956.7,1268.3 1973.5,1264.5C1990.3,1260.7 2015.6,1252.9 2024,1250.6" fill="none" stroke="#f00" stroke-width="10" stroke-linejoin="round" stroke-linecap="butt"/>
<circle cx="1332" cy="1281" r="14.5" fill="#f00"/>
<circle cx="1433.8" cy="1351.8" r="14.5" fill="#f00"/>
<circle cx="1535.6" cy="1413.8" r="14.5" fill="#f00"/>
<circle cx="1637.4" cy="1358" r="14.5" fill="#f00"/>
<circle cx="1739.2" cy="1251.8" r="14.5" fill="#f00"/>
<circle cx="1841" cy="1274.6" r="14.5" fill="#f00"/>
<circle cx="1942.8" cy="1275.9" r="14.5" fill="#f00"/>
<circle cx="2024.2" cy="1250.6" r="14.5" fill="#f00"/>
<text x="1981" y="1157" font-size="70" font-weight="bold" text-anchor="start" font-family='"Liberation Sans", Arial, sans-serif' >1</text>
<text x="1978" y="1339" font-size="70" font-weight="bold" text-anchor="start" font-family='"Liberation Sans", Arial, sans-serif' >2</text>
<text x="2026" y="909" font-size="110" font-weight="normal" text-anchor="start" font-family='"Liberation Sans", Arial, sans-serif' >d</text>
<text x="1678" y="1575" font-size="69" font-weight="bold" text-anchor="middle" font-family='"Liberation Sans", Arial, sans-serif' >pH</text>
<g transform="translate(1136,1244) rotate(-90)">
<text x="0" y="0" font-size="73" font-weight="bold" text-anchor="start" font-family='"Liberation Sans", Arial, sans-serif' >I</text>
<text x="19" y="23" font-size="44" font-weight="bold" text-anchor="start" font-family='"Liberation Sans", Arial, sans-serif' textLength="76" lengthAdjust="spacingAndGlyphs">lum</text>
<text x="93" y="0" font-size="73" font-weight="bold" text-anchor="start" font-family='"Liberation Sans", Arial, sans-serif' textLength="180" lengthAdjust="spacingAndGlyphs">, a. u.</text>
</g>
</g>
</g>
</svg>
</body></html>
